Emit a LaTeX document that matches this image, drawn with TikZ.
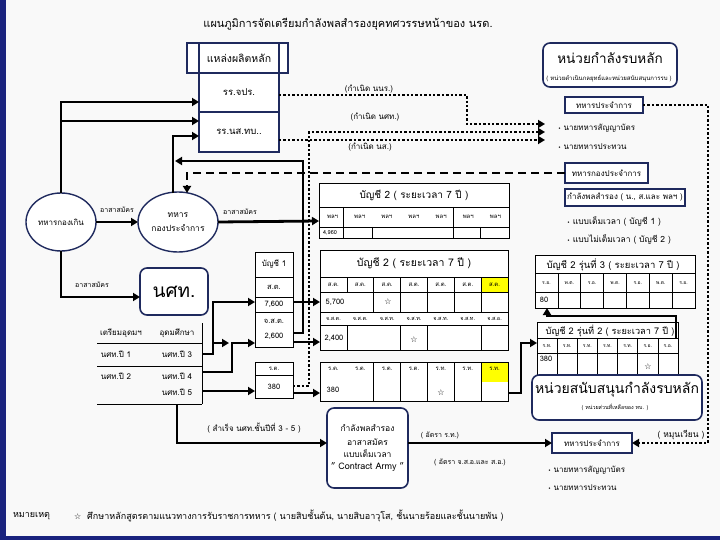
\documentclass[tikz,border=0pt]{standalone}
\usepackage{fontspec}
\setmainfont[Script=Thai]{Loma}
\newfontfamily\symf{DejaVu Sans}
\usetikzlibrary{arrows.meta,shapes.geometric}
\definecolor{navy}{HTML}{1F2A5E}
\definecolor{bgc}{HTML}{F9F9F9}
\definecolor{edgec}{HTML}{1A237E}
\definecolor{yel}{HTML}{FFFF00}
\newcommand{\tstar}{{\symf\fontsize{8}{8}\selectfont ☆}}
\newcommand{\tbul}{{\symf\fontsize{5}{5}\selectfont •}}
\newcommand{\fs}[1]{\fontsize{#1}{#1}\selectfont}
\begin{document}
\begin{tikzpicture}[x=1pt,y=-1pt,
  every node/.style={inner sep=0pt,outer sep=0pt},
  nbox/.style={draw=navy,line width=1.4pt,fill=white},
  rbox/.style={draw=navy,line width=1.6pt,rounded corners=7pt,fill=white},
  tarrow/.style={line width=2.8pt,-{Triangle[length=7pt,width=8pt]}},
  dotl/.style={line width=2.4pt,dash pattern=on 2.4pt off 2pt},
  dotarrow/.style={dotl,-{Triangle[length=7pt,width=8pt]}},
  dashl/.style={line width=2pt,dash pattern=on 8pt off 5pt},
  grid/.style={line width=0.6pt,draw=black},
  lab/.style={font=\fs{8}},
  slab/.style={font=\fs{7}},
  cell/.style={font=\fs{6}},
  num/.style={font=\fs{7.5}},
]
\useasboundingbox (0,0) rectangle (720,540);
\fill[bgc] (0,0) rectangle (720,540);
\fill[edgec] (0,0) rectangle (6,540);
\fill[edgec] (0,536) rectangle (720,540);

% title
\node[font=\fs{11}] (title) at (348,24) {แผนภูมิการจัดเตรียมกำลังพลสำรองยุคทศวรรษหน้าของ นรด.};

% top left sources
\draw[nbox] (187,43) rectangle (288,73);
\node[nbox,minimum width=80pt,minimum height=30pt,font=\fs{10.5}] (hdr) at (239,58) {แหล่งผลิตหลัก};
\node[nbox,minimum width=80pt,minimum height=39pt,font=\fs{9.5}] (jpr) at (239,92.5) {รร.จปร.};
\node[nbox,minimum width=80pt,minimum height=40pt,font=\fs{9.5}] (nsb) at (239,132) {รร.นส.ทบ..};

% ellipses
\node[ellipse,draw=navy,line width=1.4pt,fill=white,minimum width=70pt,minimum height=58pt,lab] (ell1) at (61,222) {ทหารกองเกิน};
\node[ellipse,draw=navy,line width=1.4pt,fill=white,minimum width=80pt,minimum height=60pt,font=\fs{8.5},align=center] (ell2) at (178,222) {ทหาร\\[6pt]กองประจำการ};

% นศท box
\node[rbox,minimum width=68pt,minimum height=47pt,font=\fs{19}] (nst) at (174,291.5) {นศท.};

% left student table
\draw[grid] (97,343) -- (202,343) (97,366) -- (202,366) (97,404) -- (202,404) (202,323) -- (202,404);
\node[lab] (lt1) at (121,333) {เตรียมอุดมฯ};
\node[lab] (lt2) at (177,333) {อุดมศึกษา};
\node[lab] (lt3) at (116,354) {นศท.ปี 1};
\node[lab] (lt4) at (177,354) {นศท.ปี 3};
\node[lab] (lt5) at (116,376) {นศท.ปี 2};
\node[lab] (lt6) at (177,376) {นศท.ปี 4};
\node[lab] (lt7) at (177,392) {นศท.ปี 5};

% บัญชี 1 column
\node[grid,fill=white,minimum width=38pt,minimum height=25pt,lab] (b1t) at (274,264.5) {บัญชี 1};
\node[grid,fill=white,minimum width=38pt,minimum height=20pt,num] (b1a) at (274,287) {ส.ต.};
\node[grid,fill=white,minimum width=38pt,minimum height=15pt,num] (b1b) at (274,304.5) {7,600};
\node[grid,fill=white,minimum width=38pt,minimum height=35pt,num,align=center] (b1c) at (274,329.5) {จ.ส.ต.\\[7pt]2,600};
\node[grid,fill=white,minimum width=38pt,minimum height=13pt,cell] (rt1) at (274,368.5) {ร.ต.};
\node[grid,fill=white,minimum width=38pt,minimum height=23pt,num] (rt2) at (274,386.5) {380};

% Table A (พลฯ)
\draw[grid,fill=white] (319,183) rectangle (509,238);
\draw[grid] (319,207) -- (509,207) (319,227) -- (509,227);
\draw[grid] (343,207) -- (343,238) (453,207) -- (453,238) (372,227) -- (372,238) (480,227) -- (480,238);
\node[font=\fs{10}] (tAt) at (414,195) {บัญชี 2 ( ระยะเวลา 7 ปี )};
\foreach \i in {1,...,7} \node[cell] (tAh\i) at ({319+27.14*(\i-0.5)},217) {พลฯ};
\node[font=\fs{5.5}] (tAd) at (330,232.5) {4,960};

% Table B (ส.ต. / จ.ส.)
\draw[grid,fill=white] (320,250) rectangle (508,350);
\fill[yel] (481.1,277) rectangle (508,292);
\draw[grid] (320,250) rectangle (508,350);
\draw[grid] (320,277) -- (508,277) (320,292) -- (508,292) (320,312) -- (508,312) (320,325) -- (508,325);
\foreach \x in {346.9,373.7,400.6,427.4,454.3,481.1} \draw[grid] (\x,277) -- (\x,292);
\foreach \x in {373.7,400.6,427.4,454.3,481.1} \draw[grid] (\x,292) -- (\x,312);
\foreach \x in {346.9,400.6,427.4,481.1} \draw[grid] (\x,325) -- (\x,350);
\node[font=\fs{10.5}] (tBt) at (414,263.5) {บัญชี 2 ( ระยะเวลา 7 ปี )};
\foreach \i in {1,...,7} \node[cell] (tBh\i) at ({320+26.86*(\i-0.5)},284.5) {ส.ต.};
\node[num] (tBd1) at (335,302) {5,700};
\node (tBs1) at (388,302) {\tstar};
\foreach \t [count=\i] in {จ.ส.ต.,จ.ส.ต.,จ.ส.ท.,จ.ส.ท.,จ.ส.ท.,จ.ส.ท.,จ.ส.อ.} \node[font=\fs{5.5}] (tBk\i) at ({320+26.86*(\i-0.5)},318.5) {\t};
\node[num] (tBd2) at (334,338) {2,400};
\node (tBs2) at (414,340) {\tstar};

% Table C (ร.ต.)
\draw[grid,fill=white] (320,362) rectangle (508,401);
\fill[yel] (481.1,362) rectangle (508,382);
\draw[grid] (320,362) rectangle (508,401);
\foreach \x in {373.7,400.6,427.4,454.3,481.1} \draw[grid] (\x,362) -- (\x,401);
\foreach \t [count=\i] in {ร.ต.,ร.ต.,ร.ต.,ร.ต.,ร.ท.,ร.ท.,ร.ท.} \node[cell] (tCh\i) at ({320+26.86*(\i-0.5)},369) {\t};
\node[num] (tCd) at (333,390) {380};
\node (tCs) at (441,393) {\tstar};

% Table R3
\draw[grid,fill=white] (535,255) rectangle (695,308);
\draw[grid] (535,273) -- (695,273) (535,292) -- (695,292);
\foreach \x in {557.9,580.7,603.6,626.4,649.3,672.1} \draw[grid] (\x,273) -- (\x,308);
\node[font=\fs{9.5}] (r3t) at (613,264.5) {บัญชี 2 รุ่นที่ 3 ( ระยะเวลา 7 ปี )};
\foreach \t [count=\i] in {ร.อ.,พ.ต.,ร.อ.,พ.ต.,ร.อ.,พ.ต.,ร.อ.} \node[font=\fs{5}] (r3h\i) at ({535+22.86*(\i-0.5)},283) {\t};
\node[num] (r3d) at (544,300) {80};

% Table R2
\draw[grid,fill=white] (537,322) rectangle (678,375);
\draw[grid] (537,338) -- (678,338) (537,353) -- (678,353);
\foreach \x in {557.1,577.3,597.4,617.6,637.7,657.9} \draw[grid] (\x,338) -- (\x,375);
\node[font=\fs{9.2}] (r2t) at (610,331) {บัญชี 2 รุ่นที่ 2 ( ระยะเวลา 7 ปี )};
\foreach \t [count=\i] in {ร.ท.,ร.ท.,ร.ท.,ร.ท.,ร.ท.,ร.อ.,ร.อ.} \node[font=\fs{5}] (r2h\i) at ({537+20.14*(\i-0.5)},346) {\t};
\node[num] (r2d) at (546,359) {380};
\node (r2s) at (648,367) {\tstar};

% right column
\node[rbox,minimum width=134pt,minimum height=44pt] (mainf) at (610,65) {};
\node[font=\fs{13.5}] (mainft) at (610,58) {หน่วยกำลังรบหลัก};
\node[font=\fs{6}] (mainfs) at (609,78.5) {( หน่วยดำเนินกลยุทธ์และหน่วยสนับสนุนการรบ )};
\node[nbox,minimum width=78pt,minimum height=16pt,lab] (prj1) at (604,105) {ทหารประจำการ};
\node[lab,anchor=west] (bu1) at (558,128) {\tbul\ นายทหารสัญญาบัตร};
\node[lab,anchor=west] (bu2) at (558,147) {\tbul\ นายทหารประทวน};
\node[nbox,minimum width=83pt,minimum height=20pt,lab] (kpr) at (606.5,173) {ทหารกองประจำการ};
\node[nbox,minimum width=120pt,minimum height=17pt,lab] (resv) at (625,197.5) {กำลังพลสำรอง ( น., ส.และ พลฯ )};
\node[font=\fs{8.5},anchor=west] (bu3) at (567,222) {\tbul\ แบบเต็มเวลา ( บัญชี 1 )};
\node[font=\fs{8.5},anchor=west] (bu4) at (567,240) {\tbul\ แบบไม่เต็มเวลา ( บัญชี 2 )};

\node[rbox,minimum width=170pt,minimum height=45pt] (supp) at (617,397.5) {};
\node[font=\fs{14}] (suppt) at (617,390) {หน่วยสนับสนุนกำลังรบหลัก};
\node[font=\fs{5.4}] (supps) at (615,407) {( หน่วยส่วนที่เหลือของ ทบ. )};

\node[rbox,minimum width=81pt,minimum height=80pt,align=center,font=\fs{8.5}] (contr) at (367.5,448) {กำลังพลสำรอง\\[6pt]อาสาสมัคร\\[3pt]แบบเต็มเวลา\\[4pt]{\fs{9}" Contract Army "}};

\node[nbox,minimum width=80pt,minimum height=20pt,lab] (prj2) at (592,443) {ทหารประจำการ};
\node[lab,anchor=west] (bu5) at (548,470) {\tbul\ นายทหารสัญญาบัตร};
\node[lab,anchor=west] (bu6) at (548,488) {\tbul\ นายทหารประทวน};

% footnote
\node[font=\fs{9},anchor=west] (fn1) at (13,516) {หมายเหตุ};
\node[font=\fs{9},anchor=west] (fn2) at (74,516) {\tstar\ \ ศึกษาหลักสูตรตามแนวทางการรับราชการทหาร ( นายสิบชั้นต้น, นายสิบอาวุโส, ชั้นนายร้อยและชั้นนายพัน )};

% coordinates
\coordinate (in1) at (545,124);
\coordinate (in2) at (545,132);
\coordinate (in3) at (545,140);
\coordinate (tAin) at (319,221);
\coordinate (tBin1) at (320,302);
\coordinate (tBin2) at (320,342);
\coordinate (tCin) at (320,393);

% thick connectors
\draw[tarrow] (ell1.north) |- (jpr.west |- 0,102);
\draw[tarrow] (61,121) -- (nsb.west |- 0,121);
\draw[tarrow] (173,193) -- (173,136) -- (nsb.west |- 0,136);
\draw[tarrow] (b1c.east |- 0,333) -- (303,333) -- (303,161) -- (175,161);
\draw[tarrow] (ell1) -- (ell2);
\node[slab] (l1) at (117,210) {อาสาสมัคร};
\draw[tarrow] (ell2.east) -- (tAin);
\node[slab] (l2) at (240,212) {อาสาสมัคร};
\draw[tarrow] (ell1.south) |- (nst.west |- 0,297);
\node[slab] (l3) at (92,285) {อาสาสมัคร};

\draw[tarrow] (202,354) -- (213,354) -- (213,302) -- (b1b.west |- 0,302);
\draw[tarrow] (213,343) -- (229,343);
\draw[tarrow] (202,372) -- (232,372) -- (232,343) -- (b1c.west |- 0,343);
\draw[tarrow] (202,391) -- (rt2.west |- 0,391);
\draw[tarrow] (177,404) |- (contr.west |- 0,443);
\node[lab] (l4) at (254,428) {( สำเร็จ นศท.ชั้นปีที่ 3 - 5 )};
\draw[tarrow] (contr.east |- 0,443) -- (prj2.west);
\node[slab] (l5) at (440,435) {( อัตรา ร.ท.)};
\node[slab] (l6) at (470,462) {( อัตรา จ.ส.อ.และ ส.อ.)};

\draw[tarrow] (b1b.east |- 0,302) -- (tBin1);
\draw[tarrow] (b1c.east |- 0,342) -- (tBin2);
\draw[tarrow] (rt2.east |- 0,393) -- (tCin);
\draw[tarrow] (508,393) -- (521,393) -- (521,343) -- (537,343);
\draw[tarrow] (676,338) -- (676,316) -- (547,316) -- (547,308);

% dotted connectors
\draw[dotarrow] (jpr.east |- 0,95) -- (467,95) -- (467,124) -- (in1);
\node[lab] (l7) at (369,89) {(กำเนิด นนร.)};
\draw[dotarrow] (rt2.east |- 0,386) -- (309,386) -- (309,132) -- (in2);
\node[lab] (l8) at (375,117) {(กำเนิด นศท.)};
\draw[dotarrow] (nsb.east |- 0,140) -- (in3);
\node[lab] (l9) at (370,147) {(กำเนิด นส.)};
\draw[dotarrow] (prj1.east) -- (708,105) -- (708,443) -- (prj2.east);
\node[font=\fs{8.5}] (l10) at (681,435) {( หมุนเวียน )};

% dashed return
\draw[dashl,-{Triangle[length=7pt,width=8pt]}] (kpr.west) -- (187,173) -- (187,193);
\end{tikzpicture}
\end{document}
